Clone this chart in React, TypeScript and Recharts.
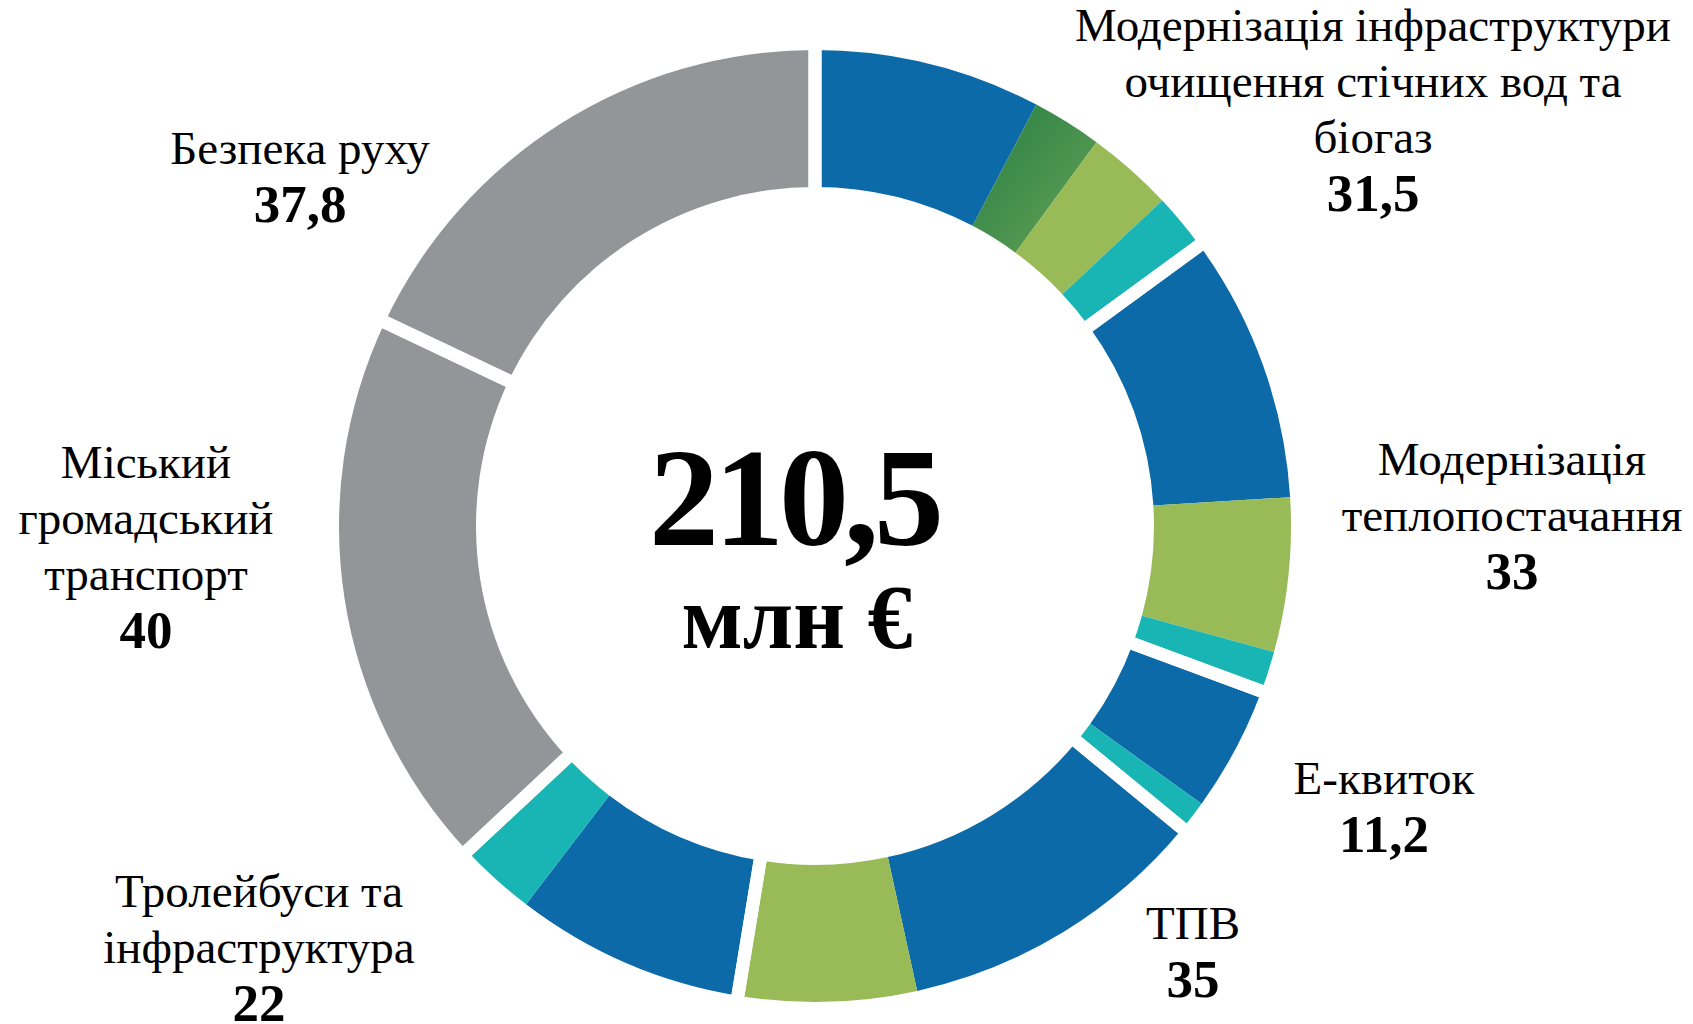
import React from 'react';
import { PieChart, Pie, Cell, Label } from 'recharts';

// group totals, млн €
const groupNames = [
  'Модернізація інфраструктури очищення стічних вод та біогаз',
  'Модернізація теплопостачання',
  'Е-квиток',
  'ТПВ',
  'Тролейбуси та інфраструктура',
  'Міський громадський транспорт',
  'Безпека руху',
];
const groupTotals = [31.5, 33, 11.2, 35, 22, 40, 37.8];
const groupValueLabels = ['31,5', '33', '11,2', '35', '22', '40', '37,8'];
const groupLabelLines = [
  ['Модернізація інфраструктури', 'очищення стічних вод та', 'біогаз'],
  ['Модернізація', 'теплопостачання'],
  ['Е-квиток'],
  ['ТПВ'],
  ['Тролейбуси та', 'інфраструктура'],
  ['Міський', 'громадський', 'транспорт'],
  ['Безпека руху'],
];

// sub-parts inside each group, clockwise from the top
const segmentValues = [16.2, 5.0, 6.2, 4.1, 19.1, 11.0, 2.9, 9.0, 2.2, 22.3, 12.7, 16.4, 5.6, 40, 37.8];
const segmentKinds = [
  'blue', 'darkGreen', 'green', 'teal',
  'blue', 'green', 'teal',
  'blue', 'teal',
  'blue', 'green',
  'blue', 'teal',
  'gray',
  'gray',
];

const centerTotal = '210,5';
const centerUnit = 'млн €';

const COLORS: Record<string, string> = {
  blue: '#0d6aa8',
  darkGreen: 'url(#darkGreenGrad)',
  green: '#99bb57',
  teal: '#19b5b5',
  gray: '#939598',
};

const FONT = '"Liberation Serif", "Times New Roman", serif';
const CX = 815;
const CY = 526;

// label anchor: centre x and first baseline y
const labelPos = [
  { x: 1373, y: 41 },
  { x: 1512, y: 475 },
  { x: 1384, y: 794 },
  { x: 1193, y: 939 },
  { x: 259, y: 907 },
  { x: 146, y: 478 },
  { x: 300, y: 164 },
];

const segmentData = segmentValues.map((v, i) => ({ name: segmentKinds[i] + i, value: v }));
const groupData = groupTotals.map((v, i) => ({ name: groupNames[i], value: v }));

const renderGroupLabel = (props: any) => {
  const i = props.index;
  const pos = labelPos[i];
  const lines = groupLabelLines[i];
  return (
    <text key={'lbl' + i} x={pos.x} y={pos.y} textAnchor="middle" fontFamily={FONT} fill="#000">
      {lines.map((l, k) => (
        <tspan key={k} x={pos.x} y={pos.y + k * 56} fontSize={47}>
          {l}
        </tspan>
      ))}
      <tspan x={pos.x} y={pos.y + (lines.length - 1) * 56 + 58} fontSize={53} fontWeight="bold">
        {groupValueLabels[i]}
      </tspan>
    </text>
  );
};

const renderCenter = () => (
  <g>
    <text x={794} y={545} textAnchor="middle" fontFamily={FONT} fontWeight="bold" fontSize={140} letterSpacing={-5} fill="#000">
      {centerTotal}
    </text>
    <text x={797} y={648} textAnchor="middle" fontFamily={FONT} fontWeight="bold" fontSize={90} fill="#000">
      {centerUnit}
    </text>
  </g>
);

const App: React.FC = () => {
  return (
    <div style={{ position: 'absolute', left: 0, top: 0, width: 1693, height: 1024, background: '#fff' }}>
      <PieChart width={1693} height={1024} margin={{ top: 0, right: 0, bottom: 0, left: 0 }}>
        <defs>
          <linearGradient id="darkGreenGrad" x1="0" y1="0" x2="1" y2="1">
            <stop offset="0%" stopColor="#267e44" />
            <stop offset="100%" stopColor="#66a356" />
          </linearGradient>
        </defs>
        <Pie
          data={segmentData}
          dataKey="value"
          nameKey="name"
          cx={CX}
          cy={CY}
          innerRadius={339}
          outerRadius={476}
          startAngle={90}
          endAngle={-270}
          stroke="none"
          isAnimationActive={false}
        >
          {segmentData.map((d, i) => (
            <Cell key={d.name} fill={COLORS[segmentKinds[i]]} stroke="none" />
          ))}
        </Pie>
        {/* white separators between groups */}
        <Pie
          data={groupData}
          dataKey="value"
          nameKey="name"
          cx={CX}
          cy={CY}
          innerRadius={322}
          outerRadius={493}
          startAngle={90}
          endAngle={-270}
          fill="none"
          stroke="#fff"
          strokeWidth={13}
          label={renderGroupLabel}
          labelLine={false}
          isAnimationActive={false}
        >
          {groupData.map((d, i) => (
            <Cell key={'g' + i} fill="none" stroke="#fff" strokeWidth={13} />
          ))}
          <Label position="center" content={renderCenter} />
        </Pie>
      </PieChart>
    </div>
  );
};

export default App;
